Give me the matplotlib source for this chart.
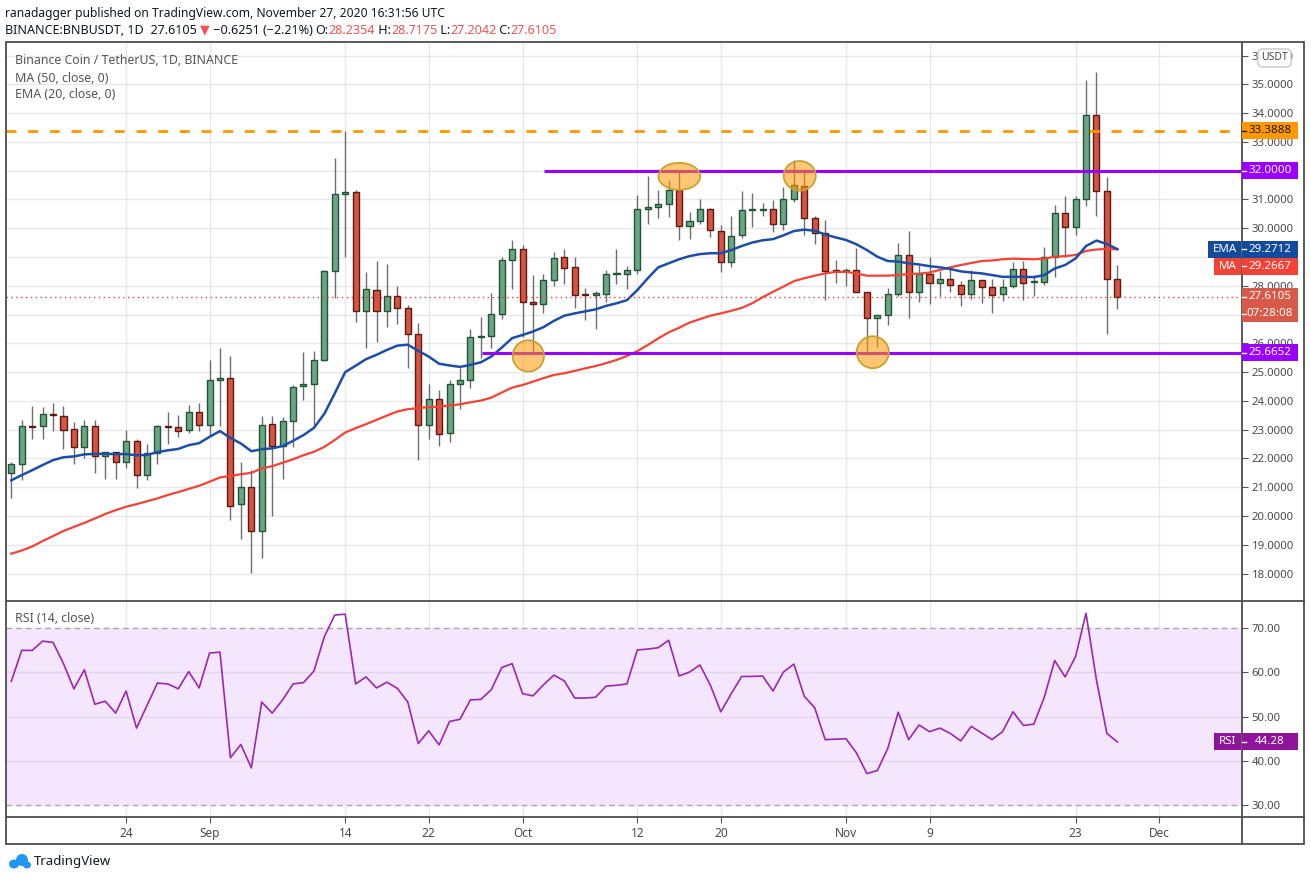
import matplotlib
matplotlib.use("Agg")
import matplotlib.pyplot as plt
from matplotlib.patches import Rectangle, Ellipse, FancyBboxPatch
from matplotlib.lines import Line2D

# daily candles BNB/USDT, Aug 13 -> Nov 27 2020
opens = [21.51, 21.79, 23.12, 23.11, 23.52, 23.48, 23.01, 22.38, 23.11, 22.10,
         22.21, 21.86, 22.62, 21.41, 22.19, 23.12, 23.09, 22.97, 23.63, 23.15,
         24.71, 24.78, 20.42, 21.02, 19.48, 23.18, 22.44, 23.29, 24.50, 24.58,
         25.42, 28.51, 31.19, 31.26, 27.12, 27.85, 27.12, 27.64, 27.22, 26.32,
         23.15, 24.06, 22.87, 24.57, 24.72, 26.22, 26.24, 27.01, 28.89, 29.28,
         27.45, 27.36, 28.20, 28.99, 28.64, 27.71, 27.69, 27.72, 28.40, 28.40,
         28.53, 30.65, 30.72, 30.83, 31.31, 30.06, 30.25, 30.65, 29.89, 28.81,
         29.75, 30.62, 30.64, 30.65, 30.13, 31.03, 31.45, 30.34, 29.85, 28.52,
         28.50, 28.53, 27.80, 26.87, 26.97, 27.70, 29.06, 27.77, 28.40, 28.08,
         28.22, 28.01, 27.70, 28.19, 27.94, 27.70, 27.98, 28.57, 28.12, 28.12,
         28.99, 30.52, 30.03, 31.00, 33.92, 31.28, 28.2354]
highs = [21.86, 23.33, 23.82, 23.78, 23.92, 23.81, 23.25, 23.33, 23.33, 22.24,
         22.24, 22.98, 22.67, 22.50, 23.15, 23.61, 23.50, 23.85, 23.92, 25.42,
         25.84, 25.56, 21.87, 21.59, 23.46, 23.46, 23.44, 24.55, 25.70, 25.73,
         28.56, 32.45, 33.39, 31.31, 28.49, 28.87, 28.77, 28.00, 27.33, 26.70,
         24.59, 24.38, 24.73, 25.13, 26.50, 26.92, 27.75, 29.00, 29.60, 29.42,
         28.38, 28.42, 29.17, 29.28, 29.00, 27.92, 27.81, 28.55, 29.29, 28.67,
         31.15, 31.81, 31.31, 31.67, 31.95, 30.56, 31.03, 30.69, 30.10, 30.42,
         31.29, 31.22, 30.87, 30.98, 31.43, 32.37, 31.95, 30.41, 30.27, 28.90,
         28.60, 29.30, 27.80, 26.97, 27.92, 29.48, 29.90, 28.72, 29.00, 28.51,
         28.58, 28.15, 28.53, 28.19, 28.22, 28.23, 28.81, 28.86, 28.36, 29.33,
         30.81, 31.13, 31.13, 35.15, 35.43, 31.78, 28.7175]
lows = [20.63, 21.26, 22.68, 22.68, 22.96, 22.33, 21.81, 22.03, 21.50, 21.29,
        21.29, 21.67, 20.98, 21.26, 21.81, 22.50, 22.75, 22.89, 22.96, 22.83,
        23.12, 19.85, 19.19, 18.03, 18.54, 20.00, 21.29, 22.40, 24.03, 23.17,
        25.37, 27.59, 28.99, 26.74, 25.82, 26.06, 26.58, 26.67, 25.13, 21.96,
        22.68, 22.44, 22.56, 23.73, 24.46, 25.49, 25.82, 26.85, 27.87, 26.22,
        25.68, 27.07, 27.98, 28.07, 27.24, 26.82, 26.51, 27.45, 28.06, 27.88,
        28.42, 30.16, 30.36, 30.40, 29.58, 29.63, 30.14, 29.70, 28.49, 28.64,
        29.67, 30.05, 30.41, 29.88, 29.94, 30.92, 29.78, 29.46, 27.52, 28.10,
        28.00, 27.77, 25.73, 25.88, 26.63, 27.66, 26.87, 27.45, 27.36, 27.64,
        27.79, 27.31, 27.53, 27.39, 27.07, 27.46, 27.93, 27.49, 27.63, 28.01,
        28.29, 28.99, 29.77, 30.78, 30.43, 26.33, 27.2042]
closes = [21.79, 23.11, 23.10, 23.53, 23.50, 22.97, 22.38, 23.11, 22.10, 22.21,
          21.86, 22.59, 21.41, 22.19, 23.11, 23.10, 22.94, 23.63, 23.15, 24.71,
          24.78, 20.36, 21.00, 19.48, 23.15, 22.44, 23.29, 24.47, 24.60, 25.41,
          28.51, 31.19, 31.27, 27.12, 27.88, 27.12, 27.64, 27.22, 26.32, 23.15,
          24.06, 22.84, 24.58, 24.72, 26.21, 26.24, 27.01, 28.89, 29.28, 27.45,
          27.36, 28.20, 28.97, 28.60, 27.69, 27.69, 27.74, 28.40, 28.43, 28.53,
          30.65, 30.72, 30.83, 31.31, 30.06, 30.25, 30.65, 29.92, 28.81, 29.72,
          30.62, 30.63, 30.65, 30.13, 31.03, 31.49, 30.34, 29.85, 28.50, 28.50,
          28.53, 27.80, 26.87, 26.97, 27.70, 29.06, 27.77, 28.40, 28.08, 28.22,
          28.01, 27.70, 28.19, 27.94, 27.67, 27.94, 28.57, 28.08, 28.16, 28.99,
          30.52, 30.03, 31.00, 33.92, 31.28, 28.22, 27.6105]
ema20 = [21.24, 21.42, 21.59, 21.77, 21.94, 22.04, 22.07, 22.14, 22.16, 22.16,
         22.15, 22.15, 22.11, 22.12, 22.22, 22.28, 22.33, 22.46, 22.53, 22.75,
         22.95, 22.71, 22.52, 22.25, 22.32, 22.35, 22.43, 22.61, 22.81, 23.06,
         23.55, 24.26, 25.00, 25.22, 25.45, 25.60, 25.77, 25.92, 25.95, 25.74,
         25.54, 25.29, 25.23, 25.18, 25.25, 25.34, 25.54, 25.85, 26.18, 26.29,
         26.41, 26.56, 26.78, 26.96, 27.04, 27.11, 27.18, 27.30, 27.39, 27.50,
         27.85, 28.26, 28.64, 28.78, 28.92, 29.03, 29.10, 29.13, 29.13, 29.24,
         29.38, 29.50, 29.58, 29.62, 29.75, 29.90, 29.95, 29.91, 29.78, 29.68,
         29.59, 29.44, 29.24, 29.01, 28.86, 28.84, 28.78, 28.74, 28.68, 28.64,
         28.58, 28.50, 28.46, 28.43, 28.37, 28.31, 28.31, 28.31, 28.30, 28.37,
         28.60, 28.72, 28.95, 29.38, 29.57, 29.45, 29.2712]
ma50 = [18.69, 18.80, 18.94, 19.13, 19.30, 19.48, 19.62, 19.76, 19.91, 20.07,
        20.20, 20.32, 20.41, 20.51, 20.61, 20.73, 20.83, 20.94, 21.05, 21.19,
        21.34, 21.39, 21.45, 21.50, 21.65, 21.73, 21.85, 21.97, 22.11, 22.23,
        22.40, 22.64, 22.90, 23.05, 23.19, 23.34, 23.49, 23.63, 23.71, 23.75,
        23.78, 23.80, 23.84, 23.88, 23.95, 24.01, 24.11, 24.29, 24.46, 24.55,
        24.67, 24.79, 24.90, 24.96, 25.04, 25.13, 25.21, 25.31, 25.42, 25.56,
        25.73, 25.94, 26.17, 26.38, 26.54, 26.72, 26.84, 26.96, 27.04, 27.13,
        27.23, 27.39, 27.60, 27.79, 27.97, 28.16, 28.26, 28.35, 28.43, 28.48,
        28.48, 28.43, 28.35, 28.35, 28.35, 28.37, 28.41, 28.42, 28.46, 28.55,
        28.64, 28.72, 28.79, 28.86, 28.88, 28.92, 28.94, 28.93, 28.92, 28.94,
        29.01, 29.03, 29.07, 29.21, 29.26, 29.28, 29.2667]
rsi14 = [58.0, 65.0, 65.0, 67.1, 66.8, 62.0, 56.3, 60.6, 52.8, 53.5,
         50.8, 55.8, 47.4, 52.5, 57.6, 57.4, 56.3, 60.2, 56.5, 64.4,
         64.6, 40.7, 43.7, 38.4, 53.3, 50.8, 53.8, 57.4, 57.7, 60.3,
         68.1, 73.0, 73.2, 57.4, 59.0, 56.5, 57.8, 56.4, 53.3, 43.9,
         46.8, 43.6, 48.9, 49.4, 53.8, 53.9, 56.1, 61.1, 62.0, 55.2,
         54.7, 57.2, 59.4, 58.1, 54.2, 54.2, 54.4, 56.9, 57.1, 57.4,
         65.1, 65.3, 65.6, 67.3, 59.2, 60.1, 61.7, 57.1, 51.1, 55.2,
         59.1, 59.1, 59.2, 55.8, 60.1, 61.9, 54.6, 52.0, 44.8, 44.9,
         45.0, 41.8, 37.1, 37.8, 42.8, 51.0, 44.8, 48.1, 46.6, 47.4,
         46.2, 44.5, 47.8, 46.3, 44.8, 46.6, 51.1, 48.0, 48.3, 54.4,
         62.7, 59.0, 63.6, 73.4, 58.3, 46.2, 44.28]

tick_pos = [11, 19, 32, 40, 49, 60, 68, 80, 88, 102, 110]
tick_lab = ['24', 'Sep', '14', '22', 'Oct', '12', '20', 'Nov', '9', '23', 'Dec']
price_ticks = list(range(18, 37))
hidden_ticks = [27, 29, 32]  # sit fully under the price tags
rsi_ticks = [30, 40, 50, 60, 70]

resist = 33.3888
top_line = 32.0
bottom_line = 25.6652
last_close = 27.6105

W, H = 1311, 881
plt.rcParams['font.family'] = ['Noto Sans', 'DejaVu Sans']
fig = plt.figure(figsize=(W / 100, H / 100), dpi=100)
fig.patch.set_facecolor('white')


def fx(px):
    return px / W


def fy(py):
    return 1 - py / H


GRID = '#e8e8e8'
TXT = '#4a4a4a'
UP, UP_E = '#6ba583', '#225437'
DN, DN_E = '#d75442', '#5b1a13'
PURPLE = '#9900ff'

ax = fig.add_axes([fx(6), fy(600), fx(1242) - fx(6), fy(42) - fy(600)])
rx = fig.add_axes([fx(6), fy(817), fx(1242) - fx(6), fy(601) - fy(817)], sharex=ax)
XMIN, XMAX = -0.51, 117.95
ax.set_xlim(XMIN, XMAX)
ax.set_ylim(17.08, 36.47)
rx.set_ylim(27.28, 76.18)

for a in (ax, rx):
    for s in a.spines.values():
        s.set_visible(False)
    for p in tick_pos:
        a.axvline(p, color=GRID, lw=1, zorder=0)

for v in price_ticks:
    ax.axhline(v, color=GRID, lw=1, zorder=0)

# candles
n = len(closes)
for i in range(n):
    o, h, l, c = opens[i], highs[i], lows[i], closes[i]
    up = c >= o
    ax.vlines(i, l, h, color='#6e6e70', lw=1, zorder=2)
    bot = min(o, c)
    ht = max(abs(c - o), 0.04)
    ax.bar(i, ht, bottom=bot, width=0.58, color=UP if up else DN,
           edgecolor=UP_E if up else DN_E, linewidth=1, zorder=3)

xs = list(range(n))
ax.plot(xs, ma50, color='#f44336', lw=1.6, zorder=4)
ax.plot(xs, ema20, color='#1c4ea6', lw=1.8, zorder=4)

ax.hlines(resist, XMIN, XMAX, colors='#ff9800', lw=2,
          linestyles=(0, (3.6, 4.2)), zorder=5)
ax.hlines(top_line, 51.1, XMAX, colors=PURPLE, lw=2.2, zorder=5)
ax.hlines(bottom_line, 45.1, XMAX, colors=PURPLE, lw=2.2, zorder=5)
ax.hlines(last_close, XMIN, XMAX, colors='#e0443a', lw=1,
          linestyles=(0, (1, 2.5)), zorder=5)

for (cx, cy, w, h) in [(49.55, 25.56, 3.0, 1.09), (82.56, 25.69, 3.07, 1.11),
                       (64.02, 31.80, 4.0, 0.94), (75.56, 31.82, 3.07, 1.03)]:
    ax.add_patch(Ellipse((cx, cy), w, h, facecolor='#ff9800', alpha=0.55,
                         edgecolor='none', zorder=6))
    ax.add_patch(Ellipse((cx, cy), w, h, facecolor='none',
                         edgecolor='#c9a132', lw=1.3, zorder=6))

ax.yaxis.tick_right()
ax.set_yticks(price_ticks)
ax.set_yticklabels(['' if v in hidden_ticks else f'{v:.4f}' for v in price_ticks])
ax.tick_params(axis='y', length=4, color='#555555', labelcolor=TXT,
               labelsize=8.2, pad=3)
ax.tick_params(axis='x', length=0, labelbottom=False)

# RSI pane
rx.axhspan(30, 70, color='#f3e6fd', zorder=0)
for v in (40, 50, 60):
    rx.axhline(v, color='#e2d5ec', lw=1, zorder=1)
for v in (30, 70):
    rx.axhline(v, color='#a9a9a9', lw=1, linestyle=(0, (4, 3)), zorder=1)
rx.plot(xs, rsi14, color='#9c27b0', lw=1.2, zorder=3)
rx.yaxis.tick_right()
rx.set_yticks(rsi_ticks)
rx.set_yticklabels([f'{v:.2f}' for v in rsi_ticks])
rx.tick_params(axis='y', length=4, color='#555555', labelcolor=TXT,
               labelsize=8.2, pad=3)
rx.set_xticks(tick_pos)
rx.set_xticklabels(tick_lab)
rx.tick_params(axis='x', length=4, color='#555555', labelcolor=TXT,
               labelsize=8.5, pad=3)

# frame
LC = '#4d4d4d'
fig.add_artist(Rectangle((fx(6), fy(844)), fx(1304) - fx(6), fy(42) - fy(844),
                         transform=fig.transFigure, fill=False, edgecolor=LC, lw=1.3))
fig.add_artist(Line2D([fx(1242)] * 2, [fy(42), fy(844)], color=LC, lw=1.3))
fig.add_artist(Line2D([fx(6), fx(1304)], [fy(600.5)] * 2, color=LC, lw=1.3))
fig.add_artist(Line2D([fx(6), fx(1304)], [fy(817)] * 2, color=LC, lw=1.3))


def tag(a, val, text, bg, fg='white', shift=0.0, left=None, left_x=1214):
    y = a.transData.transform((0, val))[1] - shift
    fig.add_artist(Rectangle((fx(1242), (y - 8.5) / H), fx(56), 17 / H,
                             transform=fig.transFigure, facecolor=bg,
                             edgecolor='none', zorder=10))
    fig.text(fx(1270), y / H, text, color=fg, fontsize=8.3, fontweight='bold',
             ha='center', va='center', zorder=11)
    fig.add_artist(Line2D([fx(1242), fx(1246)], [y / H] * 2, color=fg, lw=1, zorder=11))
    if left:
        fig.add_artist(Rectangle((fx(left_x), (y - 8.5) / H), fx(1241 - left_x), 17 / H,
                                 transform=fig.transFigure, facecolor=bg,
                                 edgecolor='none', zorder=10))
        fig.text(fx((left_x + 1241) / 2), y / H, left, color=fg, fontsize=8.3,
                 fontweight='bold', ha='center', va='center', zorder=11)
    return y


tag(ax, resist, '33.3888', '#ff9800', fg='#1a1a1a')
tag(ax, top_line, '32.0000', PURPLE)
tag(ax, ema20[-1], '29.2712', '#124a9e', left='EMA', left_x=1208)
tag(ax, ma50[-1], '29.2667', '#f44336', shift=17, left='MA', left_x=1214)
tag(ax, last_close, '27.6105', '#d6594a')
tag(ax, last_close, '07:28:08', '#d6594a', shift=17)
tag(ax, bottom_line, '25.6652', PURPLE)
tag(rx, rsi14[-1], '44.28', '#8e1599', left='RSI', left_x=1214)

# USDT box
fig.add_artist(FancyBboxPatch((fx(1258), fy(67)), fx(33), fy(49) - fy(67),
                              boxstyle='round,pad=0,rounding_size=0.004',
                              transform=fig.transFigure, facecolor='white',
                              edgecolor='#c8c8c8', lw=1, zorder=10))
fig.text(fx(1274.5), fy(58), 'USDT', fontsize=7.5, color=TXT, ha='center',
         va='center', zorder=11)

# legend texts
fig.text(fx(15), fy(61), 'Binance Coin / TetherUS, 1D, BINANCE', fontsize=8.9, color='#555555', va='center')
fig.text(fx(15), fy(78), 'MA (50, close, 0)', fontsize=8.9, color='#555555', va='center')
fig.text(fx(15), fy(95), 'EMA (20, close, 0)', fontsize=8.9, color='#555555', va='center')
fig.text(fx(15), fy(618), 'RSI (14, close)', fontsize=8.9, color='#555555', va='center')

# header
renderer = fig.canvas.get_renderer()


def seq(x, y, parts, size):
    for s, kw in parts:
        t = fig.text(fx(x), fy(y), s, va='center', fontsize=size, **kw)
        x += t.get_window_extent(renderer=renderer).width
    return x


RED = '#ef5350'
DARK = '#131722'
seq(5, 13, [('ranadagger', dict(fontweight='bold', color=DARK)),
            (' published on TradingView.com, November 27, 2020 16:31:56 UTC', dict(color=DARK))],
    8.7)
seq(5, 30, [('BINANCE:BNBUSDT, 1D', dict(fontweight='bold', color=DARK)),
            ('  27.6105 ', dict(color=DARK)),
            ('\u25bc', dict(color=RED, family=['DejaVu Sans'])),
            (' \u22120.6251 (\u22122.21%) ', dict(color=DARK)),
            ('O:', dict(fontweight='bold', color=DARK)),
            ('28.2354', dict(color=RED)),
            (' H:', dict(fontweight='bold', color=DARK)),
            ('28.7175', dict(color=RED)),
            (' L:', dict(fontweight='bold', color=DARK)),
            ('27.2042', dict(color=RED)),
            (' C:', dict(fontweight='bold', color=DARK)),
            ('27.6105', dict(color=RED))],
    9.05)

# TradingView logo
fig.add_artist(Ellipse((fx(14), fy(864)), fx(10), 9 / H, transform=fig.transFigure,
                       facecolor='#2196f3', edgecolor='none'))
fig.add_artist(Ellipse((fx(22), fy(860)), fx(12), 12 / H, transform=fig.transFigure,
                       facecolor='#2196f3', edgecolor='none'))
fig.add_artist(Ellipse((fx(27), fy(865)), fx(8), 7 / H, transform=fig.transFigure,
                       facecolor='#2196f3', edgecolor='none'))
fig.text(fx(34), fy(862), 'TradingView', fontsize=9.5, color='#131722',
         fontweight='semibold', va='center')

fig.savefig('out.png', dpi=100)
